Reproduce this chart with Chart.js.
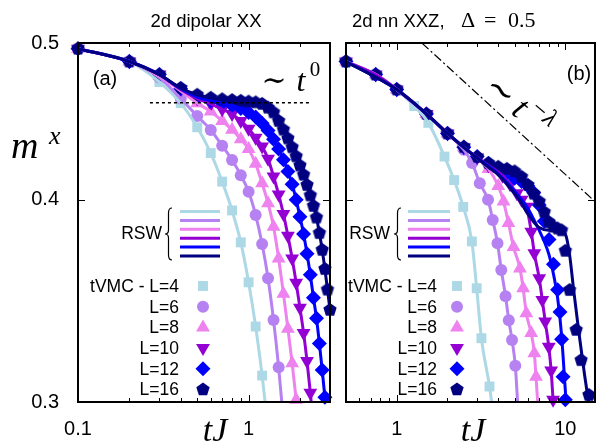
<!DOCTYPE html>
<html>
<head>
<meta charset="utf-8">
<script src="https://cdn.jsdelivr.net/npm/chart.js@4.4.1/dist/chart.umd.min.js"></script>
<style>
body { margin: 0; background: #fff; width: 603px; height: 445px; overflow: hidden; position: relative; }
canvas { position: absolute; top: 0; }
</style>
</head>
<body>
<canvas id="panelA" width="338" height="445" style="left:0"></canvas>
<canvas id="panelB" width="265" height="445" style="left:338px"></canvas>
<script>
const sizes = ['L=4', 'L=6', 'L=8', 'L=10', 'L=12', 'L=16'];
const colors = ['#add8e6', '#b682f2', '#ee82ee', '#9400d3', '#0000ff', '#000080'];
const yTicks = [0.3, 0.4, 0.5];
const xTicksA = [0.1, 1];
const xTicksB = [1, 10];
const titleA = '2d dipolar XX';
const titleB = '2d nn XXZ,';

const timesA = [0.1, 0.2, 0.3, 0.4, 0.5, 0.6, 0.7, 0.8, 0.9, 1.0, 1.1, 1.2, 1.3, 1.4, 1.5,
  1.6, 1.7, 1.8, 1.9, 2.0, 2.1, 2.2, 2.3, 2.4, 2.5, 2.6, 2.7, 2.8, 2.9, 3.0];
const a4 = [0.496, 0.487, 0.473, 0.459, 0.4435, 0.4275, 0.4105, 0.394, 0.3765, 0.3557, 0.334, 0.3115, 0.289];
const a6 = [0.496, 0.487, 0.476, 0.462, 0.4506, 0.4418, 0.432, 0.4233, 0.4143, 0.4046, 0.3914, 0.3756, 0.3578, 0.3371, 0.3152, 0.292];
const a8 = [0.496, 0.487, 0.477, 0.467, 0.459, 0.4535, 0.4475, 0.442, 0.436, 0.430, 0.421, 0.4095, 0.398, 0.385, 0.368,
  0.350, 0.333, 0.317, 0.301, 0.285];
const a10 = [0.496, 0.487, 0.478, 0.468, 0.462, 0.4585, 0.455, 0.452, 0.4475, 0.4425, 0.437, 0.4315, 0.424, 0.4135, 0.403,
  0.392, 0.380, 0.368, 0.3555, 0.343, 0.331, 0.318, 0.304, 0.29];
const a12 = [0.496, 0.487, 0.478, 0.4685, 0.463, 0.4605, 0.459, 0.4575, 0.4555, 0.453, 0.450, 0.446, 0.4415, 0.436, 0.430,
  0.4235, 0.4165, 0.409, 0.400, 0.3905, 0.381, 0.3705, 0.3595, 0.348, 0.338, 0.326, 0.314, 0.302, 0.29];
const a16 = [0.496, 0.487, 0.478, 0.469, 0.4645, 0.4625, 0.4615, 0.461, 0.4605, 0.460, 0.4595, 0.4585, 0.456, 0.453, 0.4475,
  0.442, 0.4365, 0.431, 0.4255, 0.420, 0.4145, 0.4085, 0.4025, 0.3965, 0.390, 0.3815, 0.3725, 0.3625, 0.352, 0.342];
const plateauA = [0.264, 2.28];
const plateauM = 0.4592;

const b4t = [0.5, 0.75, 1, 1.27, 1.54, 1.92, 2.19, 2.48, 2.79, 2.98, 3.18, 3.55, 3.75];
const b4 = [0.487, 0.478, 0.468, 0.4571, 0.4463, 0.4254, 0.4114, 0.396, 0.377, 0.3527, 0.3285, 0.3067, 0.294];
const b6t = [0.5, 0.75, 1, 1.5, 2, 2.5, 2.8, 3.11, 3.48, 3.71, 3.96, 4.17, 4.42, 4.62, 4.83, 5.05, 5.25];
const b6 = [0.487, 0.478, 0.468, 0.452, 0.4396, 0.4295, 0.4215, 0.4095, 0.400, 0.3887, 0.376, 0.362, 0.3487, 0.337, 0.3277, 0.3159, 0.296];
const b8t = [0.5, 0.75, 1, 1.5, 2, 2.5, 3, 3.5, 4, 4.3, 4.6, 4.93, 5.38, 5.62, 5.87, 6.27, 6.55, 6.7, 6.9];
const b8 = [0.487, 0.478, 0.468, 0.452, 0.4396, 0.431, 0.4245, 0.418, 0.408, 0.399, 0.387, 0.374, 0.3628, 0.3527, 0.3404, 0.3309, 0.3216, 0.311, 0.297];
const b10t = [0.5, 0.75, 1, 1.5, 2, 2.5, 3, 3.5, 4.24, 4.7, 5.16, 5.5, 5.89, 6.28, 6.55, 7, 7.3, 7.6, 7.98, 8.24, 8.46, 8.6];
const b10 = [0.487, 0.478, 0.468, 0.452, 0.4396, 0.431, 0.4248, 0.420, 0.414, 0.409, 0.4038, 0.400, 0.3961, 0.3823, 0.3707,
  0.3578, 0.3469, 0.3364, 0.3245, 0.3138, 0.301, 0.294];
const b12t = [0.5, 0.75, 1, 1.5, 2, 2.5, 3, 3.5, 4, 4.5, 5, 5.5, 6, 6.5, 7, 7.5, 8, 8.5, 9, 9.3, 9.5, 9.7, 10, 10.2];
const b12 = [0.487, 0.478, 0.468, 0.452, 0.4396, 0.431, 0.4255, 0.4212, 0.418, 0.4155, 0.4125, 0.4105, 0.408, 0.404, 0.397,
  0.388, 0.378, 0.365, 0.352, 0.341, 0.328, 0.311, 0.301, 0.294];
const b16t = [0.5, 0.75, 1, 1.5, 2, 2.5, 3, 3.5, 4, 4.5, 5, 5.5, 6, 6.5, 7, 7.5, 8, 8.5, 9, 9.5, 10, 10.6, 11.6, 12.4, 13.8];
const b16 = [0.487, 0.478, 0.468, 0.452, 0.4396, 0.4313, 0.4252, 0.4215, 0.4192, 0.418, 0.4165, 0.4133, 0.4085, 0.4035, 0.399,
  0.393, 0.3875, 0.385, 0.384, 0.383, 0.372, 0.3518, 0.3324, 0.3184, 0.303];
const r12t = [0.5, 1, 1.5, 2, 2.5, 3, 4, 5, 6, 6.5, 7, 7.5, 8, 8.5, 9, 9.5, 10, 10.2];
const r12 = [0.487, 0.468, 0.452, 0.4396, 0.431, 0.4245, 0.415, 0.405, 0.395, 0.389, 0.383, 0.377, 0.370, 0.360, 0.348, 0.330, 0.305, 0.296];
const r16t = [0.5, 1, 1.5, 2, 2.5, 3, 3.5, 4, 4.5, 5, 5.5, 6, 6.5, 7, 8, 9, 10, 10.6, 11.2, 12, 13, 14];
const r16 = [0.487, 0.468, 0.452, 0.4396, 0.431, 0.4245, 0.419, 0.4145, 0.409, 0.4035, 0.398, 0.392, 0.3875, 0.3845, 0.383,
  0.383, 0.381, 0.370, 0.352, 0.332, 0.312, 0.296];
const powerLawT = [1.41, 15];
const powerLawM = [0.5, 0.399];

const markerRadius = [7, 6, 8, 8, 7.5, 7];
const sansFont = '"Liberation Sans", Arial, sans-serif';
const serifFont = '"Liberation Serif", "DejaVu Serif", serif';

function polyPath(ctx, x, y, r, n, startDeg) {
  for (let k = 0; k < n; k++) {
    const a = (startDeg + k * 360 / n) * Math.PI / 180;
    const px = x + r * Math.cos(a), py = y + r * Math.sin(a);
    if (k === 0) ctx.moveTo(px, py); else ctx.lineTo(px, py);
  }
  ctx.closePath();
}
function drawMarker(ctx, i, x, y) {
  const r = markerRadius[i];
  ctx.fillStyle = colors[i];
  ctx.beginPath();
  if (i === 0) { const s = r * Math.SQRT1_2; ctx.rect(x - s, y - s, 2 * s, 2 * s); }
  else if (i === 1) ctx.arc(x, y, r, 0, 2 * Math.PI);
  else if (i === 2) polyPath(ctx, x, y, r, 3, -90);
  else if (i === 3) polyPath(ctx, x, y, r, 3, 90);
  else if (i === 4) polyPath(ctx, x, y, r, 4, -90);
  else polyPath(ctx, x, y, r, 5, -90);
  ctx.fill();
}
function pentagonImage() {
  const c = document.createElement('canvas');
  const s = 2 * markerRadius[5] + 2;
  c.width = c.height = s;
  drawMarker(c.getContext('2d'), 5, s / 2, s / 2);
  return c;
}
const pointStyles = ['rect', 'circle', 'triangle', 'triangle', 'rectRot', pentagonImage()];
const pointRot = [0, 0, 0, 180, 0, 0];

function xy(ts, ms) { return ms.map((m, k) => ({ x: ts[k], y: m })); }

function buildSets(vmcT, vmcM, rswT, rswM) {
  const lines = [], marks = [];
  for (let i = 5; i >= 0; i--) {
    lines.push({
      data: xy(rswT[i], rswM[i]), borderColor: colors[i], borderWidth: 3,
      pointRadius: 0, cubicInterpolationMode: 'monotone', fill: false, clip: 0
    });
  }
  for (let i = 5; i >= 0; i--) {
    marks.push({
      data: xy(vmcT[i], vmcM[i]).filter(p => p.y >= 0.299), showLine: false,
      pointStyle: pointStyles[i], pointRotation: pointRot[i], pointRadius: markerRadius[i],
      pointBackgroundColor: colors[i], pointBorderWidth: 0, clip: false
    });
  }
  return lines.concat(marks);
}

function decorPlugin(extra) {
  return {
    id: 'decor',
    afterDraw(chart) {
      const ctx = chart.ctx, a = chart.chartArea;
      const xs = chart.scales.x, ys = chart.scales.y;
      ctx.save();
      ctx.strokeStyle = '#000';
      ctx.lineWidth = 1;
      const d0 = Math.floor(Math.log10(xs.min)), d1 = Math.ceil(Math.log10(xs.max));
      ctx.beginPath();
      for (let d = d0; d <= d1; d++) {
        for (let k = 1; k <= 9; k++) {
          const v = k * Math.pow(10, d);
          if (v < xs.min * 0.999 || v > xs.max * 1.001) continue;
          const px = Math.round(xs.getPixelForValue(v)) + 0.5;
          const len = k === 1 ? 7 : 4;
          ctx.moveTo(px, a.bottom); ctx.lineTo(px, a.bottom - len);
          ctx.moveTo(px, a.top); ctx.lineTo(px, a.top + len);
        }
      }
      yTicks.forEach(v => {
        const py = Math.round(ys.getPixelForValue(v)) + 0.5;
        ctx.moveTo(a.left, py); ctx.lineTo(a.left + 7, py);
        ctx.moveTo(a.right, py); ctx.lineTo(a.right - 7, py);
      });
      ctx.stroke();
      ctx.lineWidth = 2;
      ctx.strokeRect(a.left, a.top, a.right - a.left, a.bottom - a.top);
      ctx.restore();
      ctx.save();
      extra(ctx, chart);
      ctx.restore();
    }
  };
}

function brace(ctx, x, y0, y1) {
  const ym = (y0 + y1) / 2, w = 7, h = w / 2;
  ctx.beginPath();
  ctx.moveTo(x + w, y0);
  ctx.quadraticCurveTo(x + h, y0, x + h, y0 + 5);
  ctx.lineTo(x + h, ym - 4);
  ctx.quadraticCurveTo(x + h, ym, x, ym);
  ctx.quadraticCurveTo(x + h, ym, x + h, ym + 4);
  ctx.lineTo(x + h, y1 - 5);
  ctx.quadraticCurveTo(x + h, y1, x + w, y1);
  ctx.stroke();
}

function legend(ctx, L) {
  ctx.fillStyle = '#000';
  ctx.font = '17.5px ' + sansFont;
  ctx.textAlign = 'right';
  ctx.textBaseline = 'middle';
  ctx.fillText('RSW', L.rswRight, 234);
  ctx.strokeStyle = '#000';
  ctx.lineWidth = 1.2;
  brace(ctx, L.braceX, 208, 260);
  for (let i = 0; i < 6; i++) {
    ctx.strokeStyle = colors[i];
    ctx.lineWidth = 3;
    ctx.beginPath();
    const y = 211.5 + i * 8.9;
    ctx.moveTo(L.line0, y); ctx.lineTo(L.line1, y);
    ctx.stroke();
  }
  for (let i = 0; i < 6; i++) {
    const y = 286 + i * 20.7;
    ctx.fillStyle = '#000';
    ctx.fillText(i === 0 ? 'tVMC - ' + sizes[i] : sizes[i], L.labelRight, y + 1);
    drawMarker(ctx, i, L.markX, y);
  }
}

function axisTitle(ctx, cx) {
  ctx.fillStyle = '#000';
  ctx.font = 'italic 34px ' + serifFont;
  ctx.textAlign = 'center';
  ctx.textBaseline = 'alphabetic';
  ctx.fillText('tJ', cx, 441);
}

function scalesFor(min, max, ticks, showY) {
  return {
    x: {
      type: 'logarithmic', min: min, max: max, bounds: 'data',
      grid: { display: false }, border: { display: false },
      afterBuildTicks: s => { s.ticks = ticks.map(v => ({ value: v })); },
      afterFit: s => { s.height = 43; s.paddingLeft = 0; s.paddingRight = 0; },
      ticks: { color: '#000', font: { family: sansFont, size: 20 }, padding: 7, maxRotation: 0,
        callback: v => String(v) }
    },
    y: {
      type: 'logarithmic', min: 0.3, max: 0.5, display: showY, bounds: 'data',
      grid: { display: false }, border: { display: false },
      afterBuildTicks: s => { s.ticks = yTicks.map(v => ({ value: v })); },
      afterFit: s => { s.width = showY ? 78 : 0; s.paddingTop = 0; s.paddingBottom = 0; },
      ticks: { color: '#000', font: { family: sansFont, size: 20 }, padding: 11,
        callback: v => String(v) }
    }
  };
}

const commonOpts = {
  responsive: false, animation: false, devicePixelRatio: 1,
  plugins: { legend: { display: false }, tooltip: { enabled: false } },
  elements: { line: { tension: 0 } }
};

const setsA = buildSets(
  [timesA, timesA, timesA, timesA, timesA, timesA], [a4, a6, a8, a10, a12, a16],
  [timesA, timesA, timesA, timesA, timesA, timesA], [a4, a6, a8, a10, a12, a16]);
setsA.unshift({
  data: [{ x: plateauA[0], y: plateauM }, { x: plateauA[1], y: plateauM }],
  borderColor: '#000', borderWidth: 1.5, borderDash: [3, 3], pointRadius: 0
});

new Chart(document.getElementById('panelA'), {
  type: 'line',
  data: { datasets: setsA },
  options: Object.assign({}, commonOpts, {
    layout: { padding: { left: 0, right: 2, top: 43, bottom: 0 } },
    scales: scalesFor(0.1, 3, xTicksA, true)
  }),
  plugins: [decorPlugin((ctx) => {
    ctx.fillStyle = '#000';
    ctx.font = '18.5px ' + sansFont;
    ctx.textAlign = 'center';
    ctx.textBaseline = 'alphabetic';
    ctx.fillText(titleA, 206, 27);
    ctx.font = '20px ' + sansFont;
    ctx.fillText('(a)', 105, 85);
    ctx.font = '30px ' + serifFont;
    ctx.fillText('\u223C', 274, 90);
    ctx.font = 'italic 32px ' + serifFont;
    ctx.fillText('t', 301, 91);
    ctx.font = '21px ' + serifFont;
    ctx.fillText('0', 315, 76);
    ctx.textAlign = 'left';
    ctx.font = 'italic 38px ' + serifFont;
    ctx.fillText('m', 11, 158);
    ctx.font = 'italic 26px ' + serifFont;
    ctx.fillText('x', 49, 144);
    axisTitle(ctx, 215);
    legend(ctx, { rswRight: 162, braceX: 165, line0: 180, line1: 220, labelRight: 179, markX: 203 });
  })]
});

const setsB = buildSets(
  [b4t, b6t, b8t, b10t, b12t, b16t], [b4, b6, b8, b10, b12, b16],
  [b4t, b6t, b8t, b10t, r12t, r16t], [b4, b6, b8, b10, r12, r16]);
setsB.unshift({
  data: xy(powerLawT, powerLawM),
  borderColor: '#000', borderWidth: 1.2, borderDash: [9, 3, 2, 3], pointRadius: 0
});

const ox = 338;
new Chart(document.getElementById('panelB'), {
  type: 'line',
  data: { datasets: setsB },
  options: Object.assign({}, commonOpts, {
    layout: { padding: { left: 2, right: 6, top: 43, bottom: 0 } },
    scales: scalesFor(0.5, 15, xTicksB, false)
  }),
  plugins: [decorPlugin((ctx) => {
    ctx.translate(-ox, 0);
    ctx.fillStyle = '#000';
    ctx.textBaseline = 'alphabetic';
    ctx.textAlign = 'left';
    ctx.font = '18.5px ' + sansFont;
    ctx.fillText(titleB, 352, 27);
    ctx.font = '22px ' + serifFont;
    ctx.fillText('\u0394', 461, 27);
    ctx.fillText('=', 484, 27);
    ctx.fillText('0.5', 508, 27);
    ctx.textAlign = 'center';
    ctx.font = '20px ' + sansFont;
    ctx.fillText('(b)', 579, 80);
    // ~ t^-lambda, rotated along the guide line
    ctx.save();
    ctx.translate(489, 82);
    ctx.rotate(0.70);
    ctx.textAlign = 'left';
    ctx.font = '35px ' + serifFont;
    ctx.fillText('\u223C', 0, 10);
    ctx.font = 'italic 35px ' + serifFont;
    ctx.fillText('t', 36, 10);
    ctx.font = 'italic 25px ' + serifFont;
    ctx.fillText('\u2212\u03BB', 48, -4);
    ctx.restore();
    axisTitle(ctx, 473);
    legend(ctx, { rswRight: 390, braceX: 394, line0: 408, line1: 450, labelRight: 437, markX: 457 });
  })]
});
</script>
</body>
</html>
